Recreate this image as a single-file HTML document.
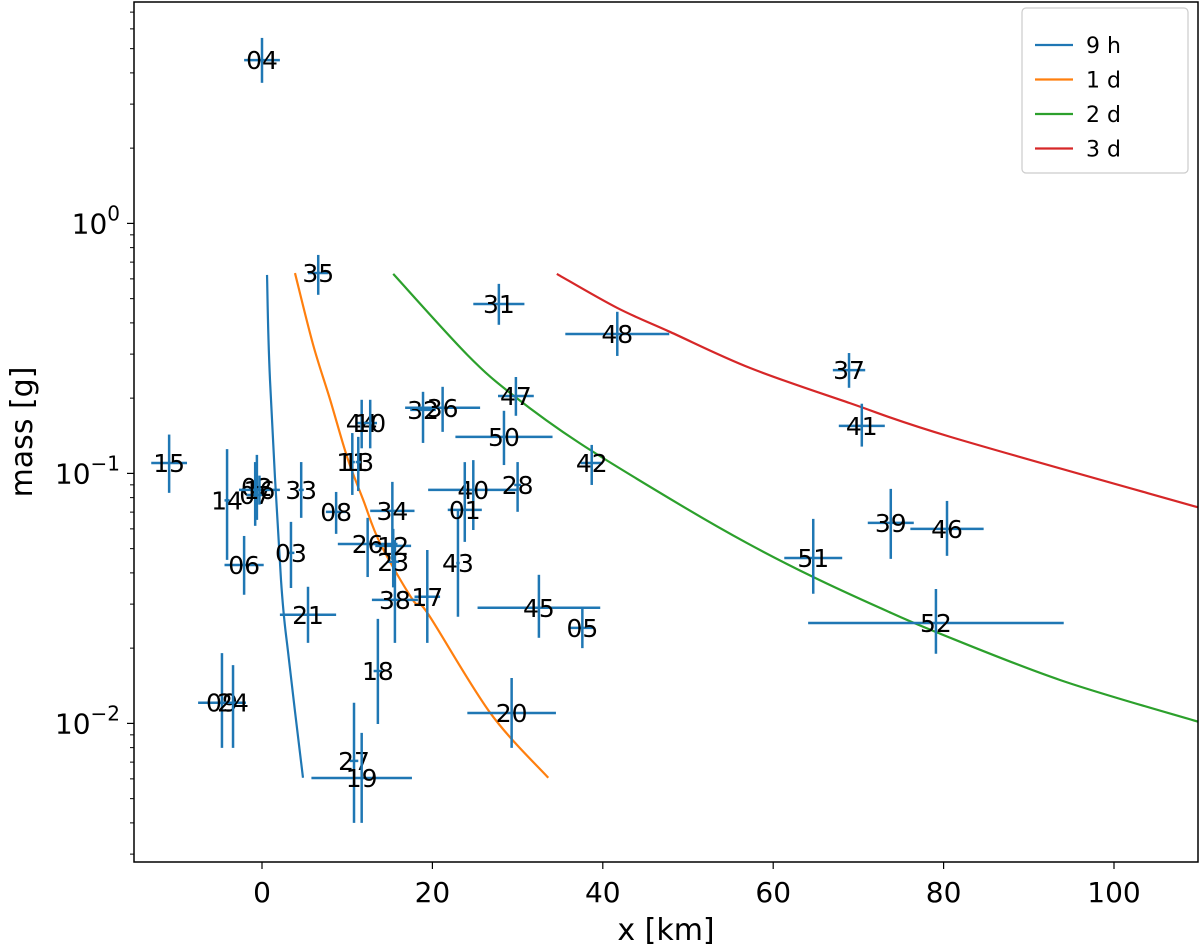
<!DOCTYPE html>
<html><head><meta charset="utf-8"><style>
body{margin:0;background:#fff;}
svg{display:block;font-family:"DejaVu Sans","Liberation Sans",sans-serif;}
</style></head><body>
<svg id="chart" width="1200" height="946" viewBox="0 0 1200 946" xmlns="http://www.w3.org/2000/svg">
<rect x="0" y="0" width="1200" height="946" fill="#fff"/>
<g id="curves"></g>
<g id="points"></g>
<g id="axes"></g>
<g id="legend"></g>
</svg>
<script>
// ---- data ----
const labels = ["15","14","02","07","16","33","08","11","13","44","10","32","36","34","38","26","12","23","17","43","40","28","01","06","03","21","09","24","18","27","19","20","45","05","04","35","31","48","37","47","41","50","42","39","46","51","52"];
const xVals = [-10.9,-4.1,-0.6,-0.8,-0.3,4.6,8.7,10.6,11.3,11.7,12.7,18.9,21.2,15.3,15.6,12.4,15.4,15.4,19.4,23.0,24.8,30.0,23.8,-2.1,3.4,5.4,-4.7,-3.4,13.6,10.8,11.7,29.3,32.5,37.6,0.0,6.6,27.8,41.7,68.9,29.8,70.4,28.4,38.7,73.8,80.4,64.7,79.1];
const xErr = [2.1,0.3,0.3,1.0,2.4,0.3,1.2,0.3,0.3,0.5,0.8,1.5,4.4,2.6,2.7,3.5,2.1,0.7,1.5,0.2,5.3,0.4,2.0,2.3,0.4,3.3,2.8,1.5,0.5,0.5,5.9,5.2,7.2,1.4,2.1,1.2,3.0,6.1,1.9,2.1,2.7,5.7,1.3,2.7,4.3,3.4,15.0];
const mass = [0.110,0.078,0.0883,0.082,0.0859,0.0859,0.0702,0.111,0.111,0.159,0.159,0.1795,0.183,0.0708,0.0312,0.0522,0.0513,0.0443,0.0321,0.0438,0.0859,0.0899,0.0715,0.043,0.0481,0.0272,0.0121,0.0121,0.0162,0.00708,0.00605,0.0110,0.029,0.0241,4.50,0.633,0.476,0.361,0.259,0.204,0.155,0.14,0.11,0.0634,0.06,0.0459,0.0252];
const massLo = [0.0836,0.0451,0.0652,0.0617,0.075,0.0664,0.0573,0.082,0.085,0.126,0.126,0.1324,0.1466,0.0451,0.021,0.0385,0.042,0.035,0.021,0.0267,0.0594,0.0702,0.0532,0.0327,0.0348,0.021,0.00798,0.00798,0.00995,0.0040,0.0040,0.00798,0.022,0.020,3.65,0.518,0.393,0.295,0.22,0.17,0.128,0.108,0.0899,0.0455,0.0468,0.033,0.019];
const massHi = [0.143,0.125,0.1186,0.111,0.098,0.111,0.0843,0.145,0.14,0.197,0.197,0.212,0.222,0.0925,0.0542,0.0664,0.06,0.055,0.0494,0.0715,0.113,0.111,0.111,0.0562,0.064,0.0352,0.0191,0.0171,0.0262,0.0121,0.00916,0.0152,0.0393,0.029,5.52,0.748,0.573,0.443,0.303,0.243,0.19,0.178,0.13,0.0867,0.0776,0.0658,0.0345];

const curveNames = ["9 h","1 d","2 d","3 d"];
const curveColors = ["#1f77b4","#ff7f0e","#2ca02c","#d62728"];
const curve9hX = [0.59,0.94,2.23,3.17,4.81];
const curve9hM = [0.622,0.236,0.0375,0.0179,0.00606];
const curve1dX = [3.87,6.0,8.0,10.0,11.9,13.85,17.7,19.4,26.8,33.6];
const curve1dM = [0.633,0.327,0.197,0.116,0.078,0.0527,0.0312,0.0277,0.0110,0.00606];
const curve2dX = [15.4,24.1,29.5,37.3,49.1,56.9,64.7,72.5,79.1,93.7,110.1];
const curve2dM = [0.628,0.298,0.205,0.132,0.0748,0.0527,0.0385,0.029,0.0232,0.0149,0.0101];
const curve3dX = [34.6,41.7,47.9,57.3,69.0,80.8,110.1];
const curve3dM = [0.628,0.459,0.368,0.264,0.191,0.14,0.0728];

const xTicks = [0,20,40,60,80,100];
const yTickExp = [0,-1,-2];

// ---- scales ----
const L=134,R=1198,T=2,B=862;
const X = v => 262 + 8.52*v;
const Y = m => 223.4 - 250*Math.log10(m);
const NS="http://www.w3.org/2000/svg";
function mk(tag, attrs, parent){const e=document.createElementNS(NS,tag);for(const k in attrs)e.setAttribute(k,attrs[k]);parent.appendChild(e);return e;}

// ---- curves ----
const cg=document.getElementById('curves');
const clip=mk('clipPath',{id:'pc'},document.getElementById('chart'));
mk('rect',{x:L,y:T,width:R-L,height:B-T},clip);
cg.setAttribute('clip-path','url(#pc)');
const curvesX=[curve9hX,curve1dX,curve2dX,curve3dX], curvesM=[curve9hM,curve1dM,curve2dM,curve3dM];
const curveKeys=["curve-9h","curve-1d","curve-2d","curve-3d"];
curvesX.forEach((xs,ci)=>{
  const p=xs.map((x,i)=>[X(x),Y(curvesM[ci][i])]);
  let d=`M${p[0][0]},${p[0][1]}`;
  for(let i=0;i<p.length-1;i++){
    const p0=p[Math.max(0,i-1)],p1=p[i],p2=p[i+1],p3=p[Math.min(p.length-1,i+2)];
    const c1=[p1[0]+(p2[0]-p0[0])/6,p1[1]+(p2[1]-p0[1])/6];
    const c2=[p2[0]-(p3[0]-p1[0])/6,p2[1]-(p3[1]-p1[1])/6];
    d+=` C${c1[0]},${c1[1]} ${c2[0]},${c2[1]} ${p2[0]},${p2[1]}`;
  }
  const path=mk('path',{d:d,fill:'none',stroke:curveColors[ci],'stroke-width':2.2},cg);
  
  
});

// ---- points ----
const pg=document.getElementById('points');
labels.forEach((lab,i)=>{
  const g=mk('g',{},pg);
  
  
  const cx=X(xVals[i]), cy=Y(mass[i]);
  mk('line',{x1:X(xVals[i]-xErr[i]),x2:X(xVals[i]+xErr[i]),y1:cy,y2:cy,stroke:'#1f77b4','stroke-width':2.5},g);
  mk('line',{x1:cx,x2:cx,y1:Y(massLo[i]),y2:Y(massHi[i]),stroke:'#1f77b4','stroke-width':2.5},g);
  const t=mk('text',{x:cx,y:cy+9,'text-anchor':'middle','font-size':25,fill:'#000'},g);
  t.textContent=lab;
});

// ---- axes ----
const ag=document.getElementById('axes');
const frame=mk('rect',{x:L,y:T,width:R-L,height:B-T,fill:'none',stroke:'#000','stroke-width':1.5},ag);


xTicks.forEach(v=>{
  const x=X(v);
  mk('line',{x1:x,x2:x,y1:B,y2:B+7,stroke:'#000','stroke-width':1.2},ag);
  const t=mk('text',{x:x,y:B+40,'text-anchor':'middle','font-size':28},ag);
  
  
  t.textContent=String(v);
});
for(let e=-3;e<=1;e++){for(let k=2;k<=9;k++){const y=Y(k*Math.pow(10,e));if(y>T&&y<B)mk('line',{x1:L-4,x2:L,y1:y,y2:y,stroke:'#000','stroke-width':1},ag);}}
yTickExp.forEach(ex=>{
  const y=Y(Math.pow(10,ex));
  mk('line',{x1:L-7,x2:L,y1:y,y2:y,stroke:'#000','stroke-width':1.2},ag);
  const t=mk('text',{x:L-14,y:y+10,'text-anchor':'end','font-size':28},ag);
  
  
  const base=mk('tspan',{},t);base.textContent='10';
  const sup=mk('tspan',{dy:-13,'font-size':20},t);sup.textContent=ex===0?'0':'\u2212'+(-ex);
});
const xl=mk('text',{x:666,y:940,'text-anchor':'middle','font-size':30},ag);


xl.textContent='x [km]';
const yl=mk('text',{x:0,y:0,'text-anchor':'middle','font-size':30,transform:'translate(32,432) rotate(-90)'},ag);


yl.textContent='mass [g]';

// ---- legend ----
const lg=document.getElementById('legend');
mk('rect',{x:1022,y:8,width:166,height:165,rx:4,fill:'#fff',stroke:'#ccc','stroke-width':1.2},lg);
curveNames.forEach((n,i)=>{
  const y=45+i*34.5;
  const g=mk('g',{},lg);
  
  
  mk('line',{x1:1035,x2:1073,y1:y,y2:y,stroke:curveColors[i],'stroke-width':2.2},g);
  const t=mk('text',{x:1086,y:y+8,'font-size':22},g);
  t.textContent=n;
});
</script>
</body></html>
